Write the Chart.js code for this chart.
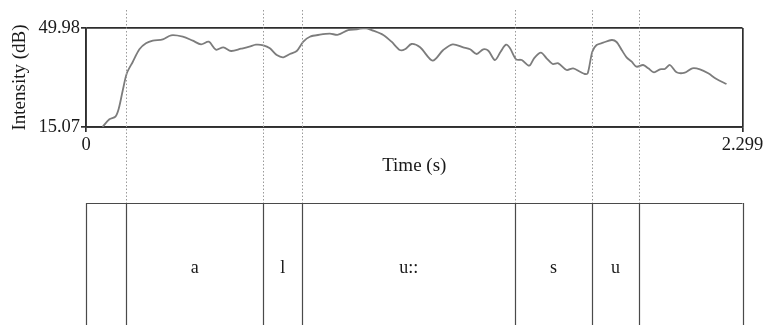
<!DOCTYPE html>
<html>
<head>
<meta charset="utf-8">
<script src="https://cdn.jsdelivr.net/npm/chart.js@4.4.1/dist/chart.umd.min.js"></script>
<style>
  html, body { margin: 0; padding: 0; background: #fff; }
  #wrap { position: relative; width: 763px; height: 325px; }
</style>
</head>
<body>
<div id="wrap"><canvas id="c" width="763" height="325"></canvas></div>
<script>
// Intensity contour (time in s, intensity in dB)
const times = [
  0.058, 0.082, 0.103, 0.115, 0.129, 0.143, 0.164, 0.187, 0.210, 0.234,
  0.269, 0.298, 0.339, 0.374, 0.403, 0.430, 0.455, 0.481, 0.508, 0.543,
  0.572, 0.595, 0.621, 0.644, 0.668, 0.691, 0.714, 0.738, 0.761, 0.784,
  0.819, 0.854, 0.883, 0.918, 0.948, 0.977, 1.006, 1.041, 1.070, 1.099,
  1.117, 1.140, 1.170, 1.214, 1.251, 1.284, 1.321, 1.345, 1.368, 1.391,
  1.409, 1.432, 1.452, 1.471, 1.485, 1.506, 1.526, 1.552, 1.569, 1.593,
  1.613, 1.634, 1.654, 1.683, 1.706, 1.730, 1.747, 1.757, 1.773, 1.788,
  1.811, 1.841, 1.858, 1.876, 1.893, 1.911, 1.928, 1.951, 1.969, 1.989,
  2.010, 2.027, 2.045, 2.068, 2.097, 2.123, 2.150, 2.179, 2.208, 2.243
];
const intensity = [
  15.10, 17.79, 18.70, 21.66, 28.12, 34.00, 38.09, 42.47, 44.58, 45.50,
  45.99, 47.40, 46.91, 45.50, 44.23, 45.15, 42.33, 43.17, 41.87, 42.68,
  43.38, 44.09, 43.88, 42.82, 40.46, 39.65, 40.81, 41.87, 45.15, 46.91,
  47.61, 47.97, 47.61, 49.27, 49.52, 49.98, 49.03, 47.51, 45.15, 42.22,
  42.47, 44.34, 43.17, 38.45, 42.22, 44.23, 43.17, 42.47, 40.81, 42.47,
  41.97, 38.69, 41.62, 44.09, 42.82, 38.94, 38.69, 36.68, 39.29, 41.27,
  39.29, 37.28, 37.53, 35.17, 35.77, 34.57, 33.76, 34.00, 41.62, 43.98,
  44.79, 45.75, 45.04, 42.22, 39.65, 38.09, 36.33, 36.93, 35.77, 34.36,
  35.42, 35.52, 36.93, 34.36, 34.22, 35.77, 35.42, 34.00, 31.99, 30.23
];

// Axis ranges and tick labels
const timeRange = [0, 2.299];
const timeTickLabels = ['0', '2.299'];
const dbRange = [15.07, 49.98];
const dbTickLabels = ['15.07', '49.98'];

// Phone tier: interval boundaries (s) and interval labels
const boundaries = [0.140, 0.621, 0.757, 1.503, 1.771, 1.937];
const segmentLabels = ['', 'a', 'l', 'u::', 's', 'u', ''];

const SERIF = '"Liberation Serif", "Times New Roman", serif';
const BOX = '#2e2e2e';
const TEXT = '#1a1a1a';

const tierPlugin = {
  id: 'tier',
  afterDraw(chart) {
    const ctx = chart.ctx;
    const xs = chart.scales.x;
    const tierTop = 203;
    const tierBottom = chart.height;
    const edges = [timeRange[0], ...boundaries, timeRange[1]];
    const px = edges.map(t => xs.getPixelForValue(t));

    // dotted boundary markers through the plot
    ctx.save();
    ctx.strokeStyle = '#9a9a9a';
    ctx.lineWidth = 1;
    ctx.setLineDash([1.5, 2]);
    boundaries.forEach(t => {
      const x = Math.round(xs.getPixelForValue(t)) + 0.5;
      ctx.beginPath();
      ctx.moveTo(x, 10);
      ctx.lineTo(x, tierTop);
      ctx.stroke();
    });
    ctx.restore();

    // tier frame and interval lines
    ctx.save();
    ctx.strokeStyle = '#4a4a4a';
    ctx.lineWidth = 1.2;
    ctx.beginPath();
    ctx.moveTo(px[0], tierTop + 0.5);
    ctx.lineTo(px[px.length - 1], tierTop + 0.5);
    px.forEach(x => {
      const xx = Math.round(x) + 0.5;
      ctx.moveTo(xx, tierTop);
      ctx.lineTo(xx, tierBottom);
    });
    ctx.stroke();

    // interval labels
    ctx.fillStyle = TEXT;
    ctx.font = '18px ' + SERIF;
    ctx.textAlign = 'center';
    ctx.textBaseline = 'middle';
    segmentLabels.forEach((lab, i) => {
      if (!lab) return;
      ctx.fillText(lab, (px[i] + px[i + 1]) / 2, 268);
    });
    ctx.restore();
  }
};

new Chart(document.getElementById('c'), {
  type: 'line',
  data: {
    datasets: [{
      data: times.map((t, i) => ({ x: t, y: intensity[i] })),
      borderColor: '#7c7c7c',
      borderWidth: 1.8,
      pointRadius: 0,
      tension: 0.3,
      fill: false
    }]
  },
  options: {
    responsive: false,
    animation: false,
    events: [],
    layout: { padding: { left: 0, top: 28, right: 20.5, bottom: 0 } },
    plugins: { legend: { display: false }, tooltip: { enabled: false } },
    scales: {
      x: {
        type: 'linear',
        min: timeRange[0],
        max: timeRange[1],
        afterBuildTicks: s => { s.ticks = timeRange.map(v => ({ value: v })); },
        afterFit: s => { s.height = 198; s.paddingLeft = 0; s.paddingRight = 0; },
        ticks: {
          autoSkip: false, maxRotation: 0, padding: 2,
          color: TEXT, font: { family: SERIF, size: 18.5 },
          callback: (v, i) => timeTickLabels[i]
        },
        grid: { color: BOX, lineWidth: 1.7, tickLength: 5 },
        border: { color: BOX, width: 1.7 },
        title: {
          display: true, text: 'Time (s)', color: TEXT,
          font: { family: SERIF, size: 19 },
          padding: { top: 0, bottom: 148 }
        }
      },
      y: {
        type: 'linear',
        min: dbRange[0],
        max: dbRange[1],
        afterBuildTicks: s => { s.ticks = dbRange.map(v => ({ value: v })); },
        afterFit: s => { s.width = 86; s.paddingTop = 0; s.paddingBottom = 0; },
        ticks: {
          autoSkip: false, padding: 1,
          color: TEXT, font: { family: SERIF, size: 18.5 },
          callback: (v, i) => dbTickLabels[i]
        },
        grid: { color: BOX, lineWidth: 1.7, tickLength: 5 },
        border: { color: BOX, width: 1.7 },
        title: {
          display: true, text: 'Intensity (dB)', color: TEXT,
          font: { family: SERIF, size: 19 },
          padding: { top: 9, bottom: 0 }
        }
      }
    }
  },
  plugins: [tierPlugin]
});
</script>
</body>
</html>
